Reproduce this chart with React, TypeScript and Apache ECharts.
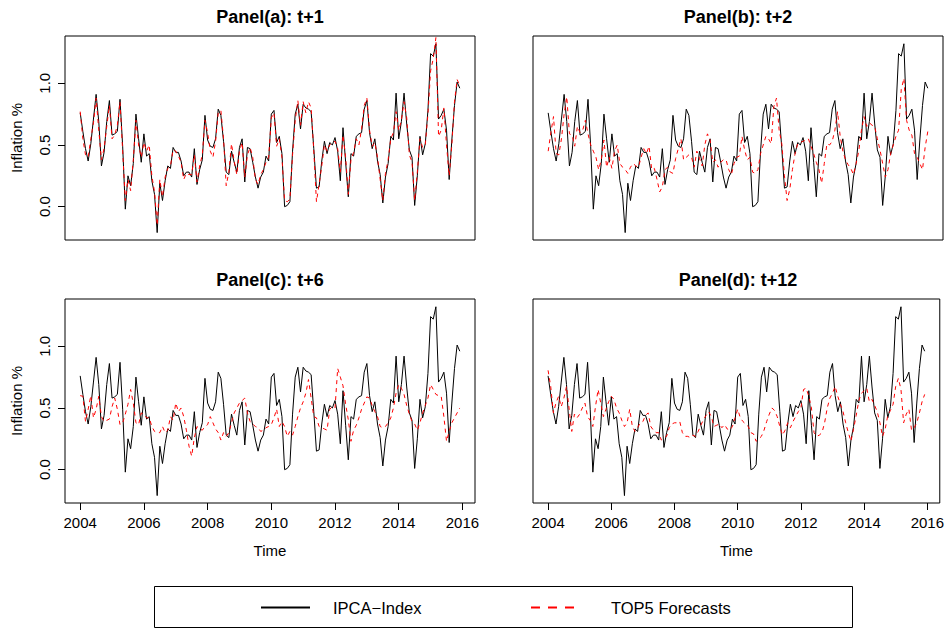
import React, { useEffect, useRef } from "react";
import * as echarts from "echarts";

// Monthly series, Jan 2004 .. Dec 2015 (one row per year)
const startYear = 2004;
const monthsPerYear = 12;

const ipcaIndex = [
  0.76, 0.61, 0.47, 0.37, 0.51, 0.71, 0.91, 0.69, 0.33, 0.44, 0.69, 0.86,
  0.58, 0.59, 0.61, 0.87, 0.49, -0.02, 0.25, 0.17, 0.35, 0.75, 0.55, 0.36,
  0.59, 0.41, 0.43, 0.21, 0.10, -0.21, 0.19, 0.05, 0.21, 0.33, 0.31, 0.48,
  0.44, 0.44, 0.37, 0.25, 0.28, 0.28, 0.24, 0.47, 0.18, 0.30, 0.38, 0.74,
  0.54, 0.49, 0.48, 0.55, 0.79, 0.74, 0.53, 0.28, 0.26, 0.45, 0.36, 0.28,
  0.48, 0.55, 0.20, 0.48, 0.47, 0.36, 0.24, 0.15, 0.24, 0.28, 0.41, 0.37,
  0.75, 0.78, 0.52, 0.57, 0.43, 0.00, 0.01, 0.04, 0.45, 0.75, 0.83, 0.63,
  0.83, 0.80, 0.79, 0.77, 0.47, 0.15, 0.16, 0.37, 0.53, 0.43, 0.52, 0.50,
  0.56, 0.45, 0.21, 0.64, 0.36, 0.08, 0.43, 0.41, 0.57, 0.59, 0.60, 0.79,
  0.86, 0.60, 0.47, 0.55, 0.37, 0.26, 0.03, 0.24, 0.35, 0.57, 0.54, 0.92,
  0.55, 0.69, 0.92, 0.67, 0.46, 0.40, 0.01, 0.25, 0.57, 0.42, 0.51, 0.78,
  1.24, 1.22, 1.32, 0.71, 0.74, 0.79, 0.62, 0.22, 0.54, 0.82, 1.01, 0.96,
];

const top5H1 = [
  0.77, 0.55, 0.42, 0.40, 0.55, 0.68, 0.88, 0.62, 0.38, 0.47, 0.65, 0.82,
  0.55, 0.58, 0.66, 0.85, 0.45, 0.05, 0.22, 0.13, 0.38, 0.70, 0.50, 0.40,
  0.52, 0.45, 0.50, 0.25, 0.12, -0.15, 0.22, 0.08, 0.24, 0.31, 0.33, 0.46,
  0.45, 0.41, 0.36, 0.22, 0.27, 0.26, 0.26, 0.42, 0.20, 0.33, 0.42, 0.70,
  0.60, 0.45, 0.40, 0.53, 0.76, 0.78, 0.55, 0.17, 0.28, 0.51, 0.37, 0.26,
  0.45, 0.52, 0.24, 0.42, 0.48, 0.40, 0.22, 0.18, 0.26, 0.30, 0.36, 0.40,
  0.72, 0.76, 0.49, 0.55, 0.40, 0.05, 0.04, 0.06, 0.42, 0.70, 0.86, 0.66,
  0.85, 0.76, 0.85, 0.80, 0.45, 0.04, 0.18, 0.33, 0.50, 0.45, 0.50, 0.52,
  0.53, 0.47, 0.28, 0.58, 0.40, 0.10, 0.38, 0.44, 0.55, 0.50, 0.63, 0.82,
  0.88, 0.62, 0.49, 0.52, 0.40, 0.22, 0.05, 0.27, 0.38, 0.55, 0.60, 0.77,
  0.62, 0.70, 0.85, 0.72, 0.42, 0.36, 0.05, 0.28, 0.55, 0.48, 0.50, 0.75,
  1.10, 1.20, 1.37, 0.57, 0.62, 0.80, 0.50, 0.25, 0.50, 0.85, 1.03, 0.98,
];

const top5H2 = [
  0.45, 0.60, 0.73, 0.43, 0.42, 0.55, 0.75, 0.89, 0.59, 0.58, 0.49, 0.65,
  0.60, 0.62, 0.70, 0.59, 0.50, 0.45, 0.40, 0.30, 0.38, 0.54, 0.32, 0.40,
  0.31, 0.45, 0.50, 0.35, 0.32, 0.30, 0.27, 0.32, 0.35, 0.33, 0.32, 0.40,
  0.47, 0.43, 0.49, 0.30, 0.31, 0.22, 0.12, 0.16, 0.30, 0.32, 0.28, 0.27,
  0.39, 0.47, 0.55, 0.38, 0.40, 0.42, 0.40, 0.32, 0.45, 0.39, 0.33, 0.50,
  0.59, 0.54, 0.36, 0.38, 0.32, 0.36, 0.38, 0.38, 0.30, 0.26, 0.35, 0.40,
  0.41, 0.57, 0.46, 0.38, 0.40, 0.28, 0.27, 0.30, 0.43, 0.50, 0.57, 0.55,
  0.51, 0.81, 0.88, 0.62, 0.51, 0.25, 0.05, 0.14, 0.30, 0.43, 0.51, 0.52,
  0.53, 0.54, 0.55, 0.49, 0.43, 0.36, 0.30, 0.19, 0.35, 0.51, 0.50, 0.53,
  0.62, 0.77, 0.57, 0.45, 0.38, 0.34, 0.31, 0.26, 0.35, 0.45, 0.62, 0.73,
  0.65, 0.68, 0.66, 0.65, 0.55, 0.46, 0.35, 0.24, 0.30, 0.43, 0.50, 0.57,
  0.62, 0.95, 1.04, 0.70, 0.62, 0.58, 0.43, 0.40, 0.35, 0.30, 0.48, 0.61,
];

const top5H6 = [
  0.60, 0.595, 0.39, 0.49, 0.60, 0.42, 0.49, 0.595, 0.43, 0.39, 0.40, 0.41,
  0.51, 0.58, 0.49, 0.365, 0.38, 0.45, 0.53, 0.65, 0.54, 0.38, 0.365, 0.46,
  0.45, 0.42, 0.42, 0.35, 0.31, 0.30, 0.30, 0.35, 0.30, 0.32, 0.43, 0.40,
  0.54, 0.47, 0.50, 0.43, 0.32, 0.19, 0.11, 0.26, 0.35, 0.33, 0.32, 0.35,
  0.365, 0.43, 0.38, 0.33, 0.30, 0.24, 0.30, 0.27, 0.30, 0.38, 0.46, 0.50,
  0.54, 0.56, 0.58, 0.46, 0.39, 0.37, 0.35, 0.34, 0.31, 0.32, 0.34, 0.35,
  0.365, 0.42, 0.49, 0.35, 0.39, 0.35, 0.27, 0.31, 0.28, 0.35, 0.43, 0.50,
  0.55, 0.62, 0.73, 0.58, 0.43, 0.42, 0.35, 0.34, 0.33, 0.32, 0.49, 0.51,
  0.50, 0.82, 0.75, 0.68, 0.53, 0.405, 0.23, 0.32, 0.36, 0.42, 0.49, 0.54,
  0.59, 0.58, 0.52, 0.47, 0.43, 0.35, 0.34, 0.35, 0.38, 0.42, 0.50, 0.62,
  0.69, 0.66, 0.61, 0.52, 0.45, 0.39, 0.37, 0.32, 0.38, 0.46, 0.52, 0.58,
  0.69, 0.65, 0.61, 0.60, 0.595, 0.43, 0.23, 0.31, 0.38, 0.42, 0.46, 0.50,
];

const top5H12 = [
  0.805, 0.675, 0.46, 0.54, 0.595, 0.51, 0.58, 0.675, 0.49, 0.31, 0.45, 0.42,
  0.45, 0.50, 0.54, 0.43, 0.40, 0.35, 0.51, 0.65, 0.54, 0.43, 0.49, 0.55,
  0.595, 0.57, 0.50, 0.46, 0.40, 0.35, 0.38, 0.49, 0.35, 0.31, 0.34, 0.38,
  0.39, 0.44, 0.46, 0.35, 0.32, 0.30, 0.30, 0.24, 0.26, 0.27, 0.34, 0.37,
  0.38, 0.38, 0.39, 0.30, 0.27, 0.27, 0.26, 0.28, 0.27, 0.31, 0.36, 0.405,
  0.44, 0.47, 0.43, 0.35, 0.36, 0.37, 0.34, 0.365, 0.33, 0.32, 0.35, 0.42,
  0.49, 0.42, 0.39, 0.37, 0.35, 0.30, 0.29, 0.23, 0.25, 0.27, 0.32, 0.39,
  0.45, 0.50, 0.48, 0.43, 0.35, 0.28, 0.32, 0.38, 0.34, 0.39, 0.43, 0.47,
  0.50, 0.65, 0.66, 0.595, 0.50, 0.30, 0.27, 0.28, 0.30, 0.38, 0.50, 0.58,
  0.62, 0.675, 0.595, 0.53, 0.47, 0.38, 0.30, 0.23, 0.33, 0.44, 0.56, 0.62,
  0.64, 0.66, 0.55, 0.57, 0.52, 0.47, 0.38, 0.27, 0.33, 0.44, 0.48, 0.53,
  0.675, 0.74, 0.65, 0.38, 0.45, 0.49, 0.32, 0.34, 0.38, 0.46, 0.55, 0.61,
];

const panelTitles = ["Panel(a): t+1", "Panel(b): t+2", "Panel(c): t+6", "Panel(d): t+12"];
const panelForecasts = [top5H1, top5H2, top5H6, top5H12];
const xTickLabels = [2004, 2006, 2008, 2010, 2012, 2014, 2016];
const yTickLabels = [0.0, 0.5, 1.0];
const legendLabels = ["IPCA\u2212Index", "TOP5 Forecasts"];
const yAxisTitle = "Inflation %";
const xAxisTitle = "Time";

const FONT = "'Liberation Sans', Arial, Helvetica, sans-serif";

const toPairs = (vals: number[]) =>
  vals.map((v, i) => [startYear + i / monthsPerYear, v]);

export default function App() {
  const ref = useRef<HTMLDivElement>(null);

  useEffect(() => {
    if (!ref.current) return;
    const chart = echarts.init(ref.current, undefined, { renderer: "svg" });

    const grids = [
      { left: 65, top: 36 },
      { left: 533, top: 36 },
      { left: 65, top: 299 },
      { left: 533, top: 299 },
    ].map((g) => ({
      ...g,
      width: 410,
      height: 204,
      show: true,
      borderColor: "#000",
      borderWidth: 1,
      backgroundColor: "transparent",
      containLabel: false,
    }));

    const xAxes = grids.map((_, i) => {
      const bottom = i >= 2;
      return {
        type: "value",
        gridIndex: i,
        position: "bottom",
        min: 2003.523,
        max: 2016.394,
        splitLine: { show: false },
        axisLine: { show: false, onZero: false },
        axisTick: bottom
          ? { show: true, customValues: xTickLabels, length: 7, inside: false, lineStyle: { color: "#000", width: 1 } }
          : { show: false },
        axisLabel: bottom
          ? {
              show: true,
              customValues: xTickLabels,
              fontSize: 15,
              color: "#000",
              margin: 12,
              fontFamily: FONT,
              formatter: (v: number) => String(Math.round(v)),
            }
          : { show: false },
        name: bottom ? xAxisTitle : "",
        nameLocation: "middle",
        nameGap: 40,
        nameTextStyle: { fontSize: 15, color: "#000", fontFamily: FONT },
      };
    });

    const yAxes = grids.map((_, i) => {
      const left = i % 2 === 0;
      return {
        type: "value",
        gridIndex: i,
        position: "left",
        min: -0.27,
        max: 1.383,
        splitLine: { show: false },
        axisLine: { show: false, onZero: false },
        axisTick: left
          ? { show: true, customValues: yTickLabels, length: 7, inside: false, lineStyle: { color: "#000", width: 1 } }
          : { show: false },
        axisLabel: left
          ? {
              show: true,
              customValues: yTickLabels,
              rotate: 90,
              fontSize: 15,
              color: "#000",
              margin: 13,
              fontFamily: FONT,
              formatter: (v: number) => v.toFixed(1),
            }
          : { show: false },
        name: left ? yAxisTitle : "",
        nameLocation: "middle",
        nameRotate: 90,
        nameGap: 41,
        nameTextStyle: { fontSize: 15, color: "#000", fontFamily: FONT },
      };
    });

    const series: any[] = [];
    panelForecasts.forEach((fc, i) => {
      series.push({
        type: "line",
        name: legendLabels[0],
        xAxisIndex: i,
        yAxisIndex: i,
        data: toPairs(ipcaIndex),
        showSymbol: false,
        symbol: "none",
        lineStyle: { color: "#000", width: 1 },
        z: 2,
      });
      series.push({
        type: "line",
        name: legendLabels[1],
        xAxisIndex: i,
        yAxisIndex: i,
        data: toPairs(fc),
        showSymbol: false,
        symbol: "none",
        lineStyle: { color: "#ff0000", width: 1, type: [4, 4] },
        z: 3,
      });
    });

    const centers = [270, 738, 270, 738];
    const titleTops = [8, 8, 271, 271];

    chart.setOption({
      animation: false,
      backgroundColor: "#fff",
      textStyle: { fontFamily: FONT },
      title: panelTitles.map((t, i) => ({
        text: t,
        left: centers[i],
        top: titleTops[i],
        textAlign: "center",
        padding: 0,
        textStyle: { fontSize: 18, fontWeight: "bold", color: "#000", fontFamily: FONT },
      })),
      grid: grids,
      xAxis: xAxes,
      yAxis: yAxes,
      series,
      graphic: [
        {
          type: "rect",
          shape: { x: 154.5, y: 586.5, width: 698, height: 41 },
          style: { fill: "none", stroke: "#000", lineWidth: 1 },
        },
        {
          type: "line",
          shape: { x1: 261, y1: 607.5, x2: 310, y2: 607.5 },
          style: { stroke: "#000", lineWidth: 2 },
        },
        {
          type: "text",
          x: 333,
          y: 607.5,
          style: { text: legendLabels[0], fontSize: 16.5, fill: "#000", fontFamily: FONT, verticalAlign: "middle", align: "left" },
        },
        {
          type: "line",
          shape: { x1: 531, y1: 607.5, x2: 574, y2: 607.5 },
          style: { stroke: "#ff0000", lineWidth: 2, lineDash: [9, 8] },
        },
        {
          type: "text",
          x: 611,
          y: 607.5,
          style: { text: legendLabels[1], fontSize: 16.5, fill: "#000", fontFamily: FONT, verticalAlign: "middle", align: "left" },
        },
      ],
    });

    return () => chart.dispose();
  }, []);

  return (
    <div
      ref={ref}
      style={{ position: "fixed", left: 0, top: 0, width: 947, height: 629, background: "#fff" }}
    />
  );
}
